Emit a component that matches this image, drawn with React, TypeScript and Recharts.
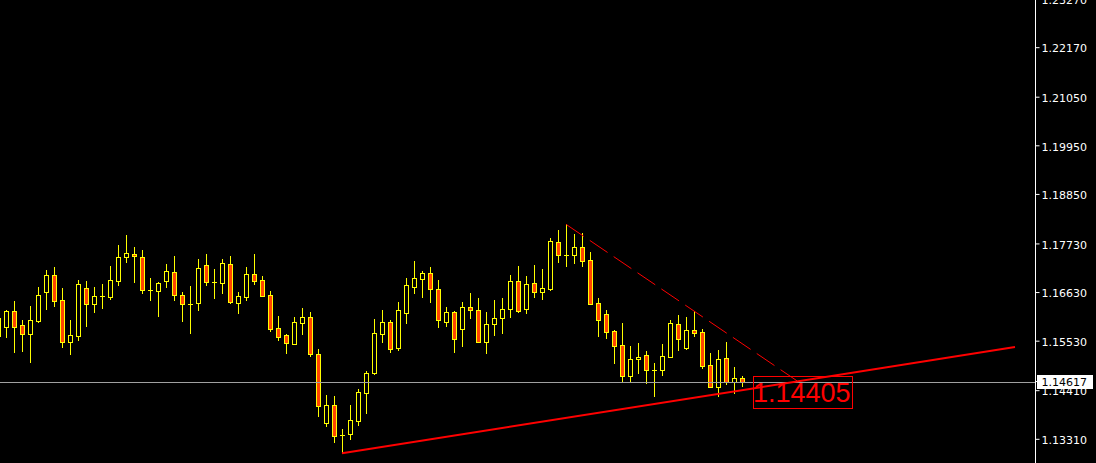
import React from 'react';
import { ComposedChart, Bar, XAxis, YAxis, ReferenceLine, ReferenceDot } from 'recharts';

// Daily bars, OHLC. The first bar index is -1 so bar 0 is the first fully visible one.
const firstBar = -1;

const opens = [
  1.15647, 1.15857, 1.16213, 1.15889, 1.15686, 1.15993, 1.16649, 1.17020, 1.16455, 1.15518,
  1.15654, 1.16726, 1.16364, 1.16545, 1.16536, 1.16898, 1.17428, 1.17495, 1.17428, 1.16688,
  1.16672, 1.16898, 1.17088, 1.16568, 1.16378, 1.16387, 1.17253, 1.16876, 1.16853, 1.17269,
  1.16400, 1.16536, 1.17043, 1.16907, 1.16568, 1.15821, 1.15663, 1.15473, 1.15948, 1.16070,
  1.15240, 1.13686, 1.14079, 1.13407, 1.13423, 1.13731, 1.14364, 1.14817, 1.15699, 1.15957,
  1.15369, 1.16161, 1.16762, 1.16943, 1.17066, 1.16704, 1.15957, 1.16183, 1.15799, 1.16296,
  1.16229, 1.15505, 1.15912, 1.16048, 1.16251, 1.16898, 1.16251, 1.16839, 1.16649, 1.16710,
  1.17767, 1.17480, 1.17486, 1.17654, 1.17360, 1.16387, 1.16138, 1.15760, 1.15437, 1.14749,
  1.15120, 1.15210, 1.14878, 1.14878, 1.15179, 1.15912, 1.15382, 1.15776, 1.15731, 1.14984,
  1.14500, 1.15143, 1.14613, 1.14690,
];

const highs = [
  1.16190, 1.16235, 1.16439, 1.16009, 1.16326, 1.16749, 1.17140, 1.17201, 1.16726, 1.16009,
  1.16914, 1.16891, 1.16749, 1.16824, 1.17231, 1.17706, 1.17932, 1.17654, 1.17593, 1.16959,
  1.16876, 1.17276, 1.17457, 1.16643, 1.16778, 1.17389, 1.17502, 1.17163, 1.17389, 1.17457,
  1.16643, 1.17208, 1.17502, 1.17005, 1.16665, 1.16100, 1.15686, 1.16070, 1.16281, 1.16190,
  1.15353, 1.14312, 1.14290, 1.13543, 1.14086, 1.14448, 1.14855, 1.16032, 1.16235, 1.16009,
  1.16416, 1.16952, 1.17344, 1.17118, 1.17201, 1.16914, 1.16310, 1.16219, 1.16416, 1.16613,
  1.16500, 1.16190, 1.16462, 1.16500, 1.17027, 1.17231, 1.17005, 1.17253, 1.17163, 1.17857,
  1.18045, 1.18174, 1.17955, 1.17971, 1.17554, 1.16500, 1.16235, 1.15783, 1.15934, 1.15421,
  1.15482, 1.15308, 1.15029, 1.15466, 1.16009, 1.16122, 1.16070, 1.16213, 1.15805, 1.15256,
  1.15330, 1.15505, 1.14939, 1.14742,
];

const lows = [
  1.15557, 1.15631, 1.15292, 1.15315, 1.15066, 1.15971, 1.16265, 1.16326, 1.15391, 1.15240,
  1.15557, 1.15873, 1.16197, 1.16287, 1.16484, 1.16801, 1.17328, 1.16876, 1.16627, 1.16462,
  1.16100, 1.16762, 1.16462, 1.15993, 1.15722, 1.16235, 1.16801, 1.16507, 1.16627, 1.16387,
  1.16174, 1.16462, 1.16824, 1.16550, 1.15760, 1.15557, 1.15269, 1.15465, 1.15692, 1.15195,
  1.13844, 1.13611, 1.13256, 1.12993, 1.13324, 1.13634, 1.13912, 1.14794, 1.15518, 1.15292,
  1.15330, 1.15948, 1.16627, 1.16523, 1.16423, 1.15844, 1.15873, 1.15292, 1.15428, 1.16061,
  1.15505, 1.15256, 1.15670, 1.15708, 1.16084, 1.16197, 1.16174, 1.16523, 1.16484, 1.16688,
  1.17328, 1.17238, 1.17305, 1.17238, 1.16364, 1.15654, 1.15609, 1.15043, 1.14613, 1.14613,
  1.14803, 1.14590, 1.14290, 1.14765, 1.15172, 1.15330, 1.15364, 1.15647, 1.14930, 1.14482,
  1.14296, 1.14554, 1.14364, 1.14516,
];

const closes = [
  1.16061, 1.16213, 1.15857, 1.15686, 1.16009, 1.16568, 1.17020, 1.16446, 1.15518, 1.15663,
  1.16817, 1.16364, 1.16545, 1.16545, 1.16907, 1.17428, 1.17518, 1.17450, 1.16695, 1.16688,
  1.16839, 1.17111, 1.16581, 1.16364, 1.16378, 1.17179, 1.16876, 1.16876, 1.17292, 1.16410,
  1.16545, 1.17043, 1.16898, 1.16559, 1.15812, 1.15631, 1.15496, 1.15957, 1.16070, 1.15233,
  1.14070, 1.14086, 1.13391, 1.13407, 1.13747, 1.14373, 1.14803, 1.15708, 1.15957, 1.15360,
  1.16229, 1.16794, 1.16952, 1.17072, 1.16704, 1.16002, 1.16183, 1.15586, 1.16296, 1.16229,
  1.15518, 1.15912, 1.16048, 1.16251, 1.16898, 1.16219, 1.16817, 1.16649, 1.16726, 1.17796,
  1.17486, 1.17480, 1.17654, 1.17351, 1.16378, 1.16002, 1.15744, 1.15428, 1.14749, 1.15120,
  1.15172, 1.14878, 1.14878, 1.15188, 1.15934, 1.15568, 1.15776, 1.15722, 1.14975, 1.14504,
  1.15120, 1.14613, 1.14690, 1.14617,
];

// Price scale labels on the right
const priceTicks = [1.1331, 1.1441, 1.1553, 1.1663, 1.1773, 1.1885, 1.1995, 1.2105, 1.2217, 1.2327];
const bidPrice = 1.14617;
const priceRange: [number, number] = [1.127738, 1.232489];
const barRange: [number, number] = [-0.75, 128.6875];

// Trend lines (bar index, price)
const supportLine = [
  { x: 42, y: 1.12993 },
  { x: 126.125, y: 1.15398 },
];
const resistanceLine = [
  { x: 70, y: 1.18174 },
  { x: 98.9, y: 1.1463 },
];
const levelTag = { bar: 93.375, price: 1.14405 };

const OUTLINE = '#ffff00';
const BULL_FILL = '#000000';
const BEAR_FILL = '#ff4500';
const AXIS_FONT = '"DejaVu Sans", Verdana, sans-serif';

const candles = opens.map((o, i) => ({
  bar: firstBar + i,
  o,
  h: highs[i],
  l: lows[i],
  c: closes[i],
}));

const Candle = (props: any) => {
  const { x, y, width, height } = props;
  const d = props.payload ?? props;
  if (x == null || y == null || height == null || !d) return null;
  const { o, h, l, c } = d;
  const top = Math.min(y, y + height);
  const span = Math.abs(height);
  const perUnit = h === l ? 0 : span / (h - l);
  const toY = (v: number) => top + (h - v) * perUnit;
  const cx = Math.round(x + width / 2);
  const wickTop = Math.round(top);
  const wickBot = Math.round(top + span);
  const yo = Math.round(toY(o));
  const yc = Math.round(toY(c));
  const bodyTop = Math.min(yo, yc);
  const bodyH = Math.abs(yo - yc);
  return (
    <g>
      <line x1={cx + 0.5} x2={cx + 0.5} y1={wickTop} y2={wickBot + 1} stroke={OUTLINE} strokeWidth={1} />
      {bodyH === 0 ? (
        <line x1={cx - 2} x2={cx + 3} y1={yo + 0.5} y2={yo + 0.5} stroke={OUTLINE} strokeWidth={1} />
      ) : (
        <rect
          x={cx - 1.5}
          y={bodyTop + 0.5}
          width={4}
          height={bodyH}
          fill={c > o ? BULL_FILL : BEAR_FILL}
          stroke={OUTLINE}
          strokeWidth={1}
        />
      )}
    </g>
  );
};

const PriceTick = (props: any) => {
  const { x, y, payload } = props;
  const v = Number(payload.value);
  const label = v.toFixed(5);
  if (v === bidPrice) {
    return (
      <g>
        <rect x={x - 4.5} y={Math.round(y) - 7} width={56} height={14} fill="#ffffff" />
        <text x={x} y={y + 4.8} fill="#000000" fontSize={11} fontFamily={AXIS_FONT}>
          {label}
        </text>
      </g>
    );
  }
  return (
    <text x={x} y={y + 4.8} fill="#ffffff" fontSize={11} fontFamily={AXIS_FONT}>
      {label}
    </text>
  );
};

const BidLine = (props: any) => {
  const { x1, x2, y1 } = props;
  if (x1 == null || y1 == null) return null;
  const yy = Math.round(y1) + 0.5;
  return <line x1={x1} x2={x2} y1={yy} y2={yy} stroke="#a0a0a0" strokeWidth={1} />;
};

const LevelTag = (props: any) => {
  const { cx, cy } = props;
  if (cx == null || cy == null) return null;
  const left = Math.round(cx) + 0.5;
  const top = Math.round(cy - 15.4) + 0.5;
  return (
    <g>
      <rect x={left} y={top} width={99} height={32} fill="none" stroke="#ff0000" strokeWidth={1} />
      <text
        x={cx}
        y={cy + 11}
        fill="#ff0000"
        fontSize={27}
        fontFamily='"Liberation Sans", Arial, sans-serif'
      >
        {levelTag.price.toFixed(5)}
      </text>
    </g>
  );
};

export default function App() {
  return (
    <div
      style={{
        position: 'absolute',
        left: 0,
        top: 0,
        width: 1096,
        height: 463,
        background: '#000000',
        overflow: 'hidden',
      }}
    >
      <ComposedChart
        width={1096}
        height={463}
        data={candles}
        margin={{ top: 0, right: 0, bottom: 0, left: 0 }}
      >
        <XAxis dataKey="bar" type="number" domain={barRange} allowDataOverflow hide />
        <YAxis
          orientation="right"
          type="number"
          domain={priceRange}
          allowDataOverflow
          ticks={[...priceTicks, bidPrice]}
          interval={0}
          width={60.5}
          tickSize={4}
          tickMargin={2}
          axisLine={{ stroke: '#ffffff' }}
          tickLine={{ stroke: '#ffffff' }}
          tick={<PriceTick />}
        />
        <ReferenceLine y={bidPrice} stroke="#a0a0a0" shape={<BidLine />} />
        <Bar
          dataKey={(d: any) => [d.l, d.h]}
          barSize={8}
          shape={<Candle />}
          isAnimationActive={false}
        />
        <ReferenceLine segment={supportLine} stroke="#ff0000" strokeWidth={2} />
        <ReferenceLine segment={resistanceLine} stroke="#ff0000" strokeWidth={1} strokeDasharray="21.4 7.4" />
        <ReferenceDot x={levelTag.bar} y={levelTag.price} r={0} shape={<LevelTag />} />
      </ComposedChart>
    </div>
  );
}
